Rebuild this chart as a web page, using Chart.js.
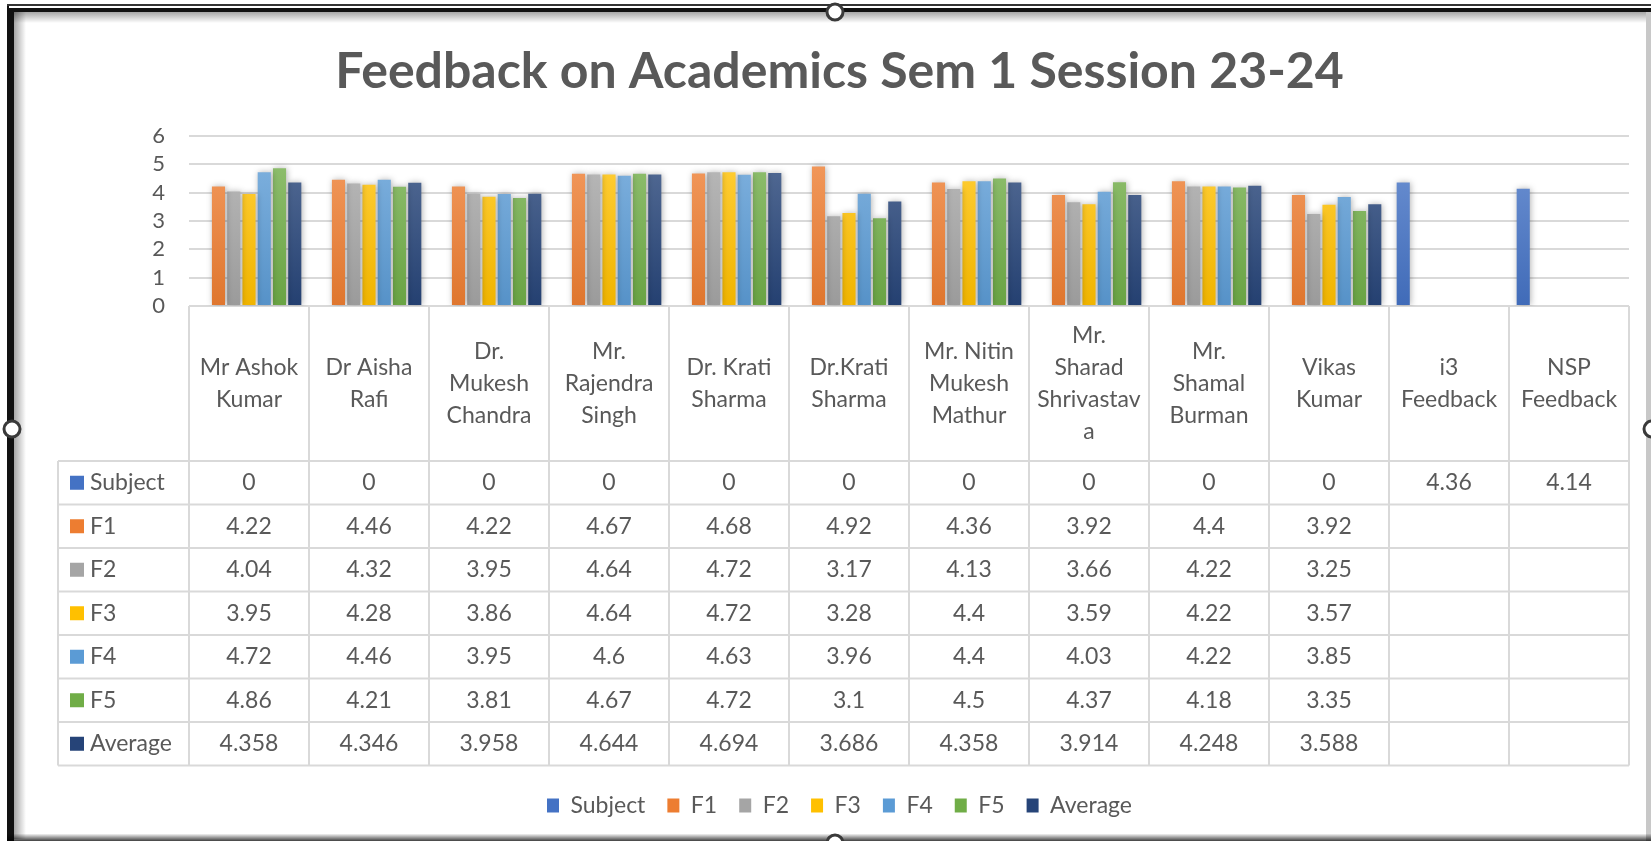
<!DOCTYPE html>
<html>
<head>
<meta charset="utf-8">
<script src="https://cdn.jsdelivr.net/npm/chart.js@4.4.1/dist/chart.umd.min.js"></script>
<style>
html,body{margin:0;padding:0;background:#fff;}
#wrap{width:1651px;height:841px;position:relative;overflow:hidden;}
canvas{display:block;}
</style>
</head>
<body>
<div id="wrap"><canvas id="c" width="1651" height="841"></canvas></div>
<script>
// ---------- data ----------
const categories = [
  ["Mr Ashok","Kumar"],
  ["Dr Aisha","Rafi"],
  ["Dr.","Mukesh","Chandra"],
  ["Mr.","Rajendra","Singh"],
  ["Dr. Krati","Sharma"],
  ["Dr.Krati","Sharma"],
  ["Mr. Nitin","Mukesh","Mathur"],
  ["Mr.","Sharad","Shrivastav","a"],
  ["Mr.","Shamal","Burman"],
  ["Vikas","Kumar"],
  ["i3","Feedback"],
  ["NSP","Feedback"]
];
const subject = [0,0,0,0,0,0,0,0,0,0,4.36,4.14];
const f1      = [4.22,4.46,4.22,4.67,4.68,4.92,4.36,3.92,4.4,3.92,null,null];
const f2      = [4.04,4.32,3.95,4.64,4.72,3.17,4.13,3.66,4.22,3.25,null,null];
const f3      = [3.95,4.28,3.86,4.64,4.72,3.28,4.4,3.59,4.22,3.57,null,null];
const f4      = [4.72,4.46,3.95,4.6,4.63,3.96,4.4,4.03,4.22,3.85,null,null];
const f5      = [4.86,4.21,3.81,4.67,4.72,3.1,4.5,4.37,4.18,3.35,null,null];
const average = [4.358,4.346,3.958,4.644,4.694,3.686,4.358,3.914,4.248,3.588,null,null];
const seriesNames  = ["Subject","F1","F2","F3","F4","F5","Average"];
const seriesValues = [subject,f1,f2,f3,f4,f5,average];
const seriesColors = ["#4472C4","#ED7D31","#A5A5A5","#FFC000","#5B9BD5","#70AD47","#264478"];
const yTickValues  = [0,1,2,3,4,5,6];
const titleText = "Feedback on Academics Sem 1 Session 23-24";

// ---------- styling helpers ----------
const TXT = "#595959";
const GRID = "#D9D9D9";
const FONT = "Lato";

function hexToRgb(h){ h=h.replace('#',''); return [parseInt(h.substr(0,2),16),parseInt(h.substr(2,2),16),parseInt(h.substr(4,2),16)]; }
function mix(c1,c2,t){ const a=hexToRgb(c1), b=hexToRgb(c2); const r=a.map((v,i)=>Math.round(v+(b[i]-v)*t)); return `rgb(${r[0]},${r[1]},${r[2]})`; }
function barFill(color){
  return (ctx)=>{
    const ch = ctx.chart;
    if(!ch.chartArea || !ch.scales.y) return color;
    const yb = ch.scales.y.getPixelForValue(0), yt = ch.scales.y.getPixelForValue(5);
    const g = ch.ctx.createLinearGradient(0,yt,0,yb);
    g.addColorStop(0, mix(color,'#ffffff',0.2));
    g.addColorStop(1, mix(color,'#000000',0.06));
    return g;
  };
}

// ---------- plugins ----------
const bgPlugin = {
  id:'bg',
  beforeDraw(chart){ const c=chart.ctx; c.save(); c.fillStyle='#fff'; c.fillRect(0,0,chart.width,chart.height); c.restore(); }
};
const shadowPlugin = {
  id:'barShadow',
  beforeDatasetsDraw(chart){ const c=chart.ctx; c.save(); c.shadowColor='rgba(0,0,0,0.30)'; c.shadowBlur=6; c.shadowOffsetX=1; c.shadowOffsetY=0; },
  afterDatasetsDraw(chart){ chart.ctx.restore(); }
};
const tablePlugin = {
  id:'dataTable',
  afterDraw(chart){
    const c = chart.ctx, xs = chart.scales.x, area = chart.chartArea;
    const n = categories.length;
    const colW = (area.right-area.left)/n;
    const edge = i => (i<n ? xs.getPixelForValue(i) - colW/2 : xs.getPixelForValue(n-1) + colW/2);
    const tableLeft = 58, headTop = area.bottom, rowTop = 461, rowH = 43.5;
    const nRows = seriesNames.length, bottom = rowTop + rowH*nRows;
    c.save();
    c.strokeStyle = GRID; c.lineWidth = 2;
    c.beginPath();
    for(let i=0;i<=n;i++){ const x=edge(i); c.moveTo(x,headTop); c.lineTo(x,bottom); }
    c.moveTo(tableLeft,rowTop); c.lineTo(tableLeft,bottom);
    for(let r=0;r<=nRows;r++){ const y=rowTop+r*rowH; c.moveTo(tableLeft,y); c.lineTo(edge(n),y); }
    c.stroke();
    c.fillStyle = TXT; c.font = `23px ${FONT}`; c.textAlign='center'; c.textBaseline='middle';
    const lh = 32, headMid = (headTop+rowTop)/2;
    categories.forEach((lines,i)=>{
      const cx = xs.getPixelForValue(i);
      const y0 = headMid - (lines.length-1)*lh/2;
      lines.forEach((t,k)=>c.fillText(t,cx,y0+k*lh));
    });
    seriesNames.forEach((name,r)=>{
      const cy = rowTop + r*rowH + rowH/2;
      c.fillStyle = seriesColors[r];
      c.fillRect(70, cy-7, 14, 14);
      c.fillStyle = TXT; c.textAlign='left';
      c.fillText(name, 90, cy);
      c.textAlign='center';
      seriesValues[r].forEach((v,i)=>{
        if(v===null||v===undefined) return;
        c.fillText(String(v), xs.getPixelForValue(i), cy);
      });
    });
    c.restore();
  }
};
const framePlugin = {
  id:'frame',
  afterDraw(chart){
    const c = chart.ctx, W = chart.width, H = chart.height;
    c.save();
    let g = c.createLinearGradient(14,0,26,0);
    g.addColorStop(0,'rgba(0,0,0,0.35)'); g.addColorStop(1,'rgba(0,0,0,0)');
    c.fillStyle = g; c.fillRect(14,12,12,H-14);
    g = c.createLinearGradient(0,12,0,23);
    g.addColorStop(0,'rgba(0,0,0,0.35)'); g.addColorStop(1,'rgba(0,0,0,0)');
    c.fillStyle = g; c.fillRect(14,12,W-18,11);
    c.fillStyle = '#111';
    c.fillRect(7,4,7,H-4);
    c.fillRect(7,8,W-7,4);
    c.fillStyle = '#fff'; c.fillRect(9,6,W-9,2);
    c.fillStyle = '#333'; c.fillRect(7,4,W-7,2);
    c.fillStyle = '#c8c8c8'; c.fillRect(W-5,12,5,H-12);
    g = c.createLinearGradient(0,H-7,0,H);
    g.addColorStop(0,'rgba(0,0,0,0.05)'); g.addColorStop(1,'rgba(0,0,0,0.75)');
    c.fillStyle = g; c.fillRect(7,H-7,W-7,7);
    c.lineWidth = 3; c.strokeStyle = '#3a3a3a'; c.fillStyle = '#fff';
    [[835,12],[835,H+2],[12,429],[W+1,429]].forEach(([x,y])=>{
      c.beginPath(); c.arc(x,y,8,0,Math.PI*2); c.fill(); c.stroke();
    });
    c.restore();
  }
};

// ---------- chart ----------
Chart.defaults.font.family = FONT;
Chart.defaults.color = TXT;

new Chart(document.getElementById('c'), {
  type:'bar',
  data:{
    labels: categories,
    datasets: seriesNames.map((name,i)=>({
      label: name,
      data: seriesValues[i],
      backgroundColor: barFill(seriesColors[i]),
      borderWidth: 0,
      categoryPercentage: 0.89,
      barPercentage: 0.86
    }))
  },
  options:{
    responsive:false,
    animation:false,
    devicePixelRatio:1,
    layout:{ padding:{ top:10, left:50, right:22, bottom:14 } },
    plugins:{
      title:{
        display:true, text:titleText, color:TXT,
        font:{ family:FONT, size:50, weight:'bold' },
        padding:{ top:32, bottom:34 }
      },
      legend:{
        display:true, position:'bottom',
        labels:{
          color:TXT, font:{ family:FONT, size:23 }, boxWidth:12, boxHeight:14, padding:22,
          generateLabels:(chart)=>seriesNames.map((n,i)=>({ text:n, fillStyle:seriesColors[i], strokeStyle:seriesColors[i], lineWidth:0, datasetIndex:i, hidden:false, fontColor:TXT }))
        }
      },
      tooltip:{ enabled:false }
    },
    scales:{
      x:{
        ticks:{ display:false },
        grid:{ display:false },
        border:{ display:false },
        afterFit:(s)=>{ s.height = 466; }
      },
      y:{
        min:0, max:6,
        afterBuildTicks:(s)=>{ s.ticks = yTickValues.map(v=>({value:v})); },
        ticks:{ color:TXT, font:{ family:FONT, size:22 }, padding:24, autoSkip:false, stepSize:1 },
        grid:{ color:GRID, lineWidth:2, drawTicks:false },
        border:{ display:false },
        afterFit:(s)=>{ s.width = 139; }
      }
    }
  },
  plugins:[bgPlugin, shadowPlugin, tablePlugin, framePlugin]
});
</script>
</body>
</html>
